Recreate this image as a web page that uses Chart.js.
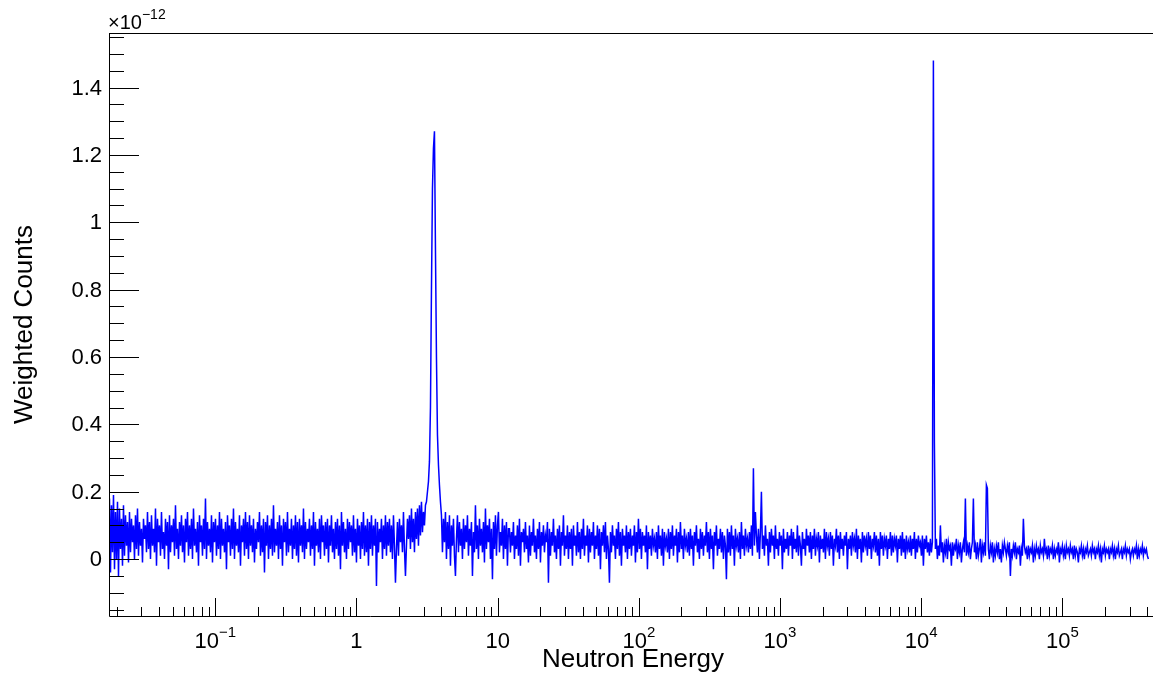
<!DOCTYPE html>
<html>
<head>
<meta charset="utf-8">
<script src="https://cdn.jsdelivr.net/npm/chart.js@4.4.1/dist/chart.umd.min.js"></script>
<style>
  html, body { margin: 0; padding: 0; background: #fff; }
  #wrap { width: 1153px; height: 675px; }
</style>
</head>
<body>
<div id="wrap"><canvas id="chart" width="1153" height="675"></canvas></div>
<script>
// Neutron energy spectrum, drawn ROOT-style (log x, ticks inside the frame)

// histogram binning: log10(E) of the first bin edge, and bin width in decades
const logEmin = -1.7528;
const binWidthLog = 0.0070822;

// axis ranges (y in units of 1e-12)
const xMin = 0.01767;
const xMax = 4.385e5;
const yMin = -0.169;
const yMax = 1.562;

const yTickValues = [0, 0.2, 0.4, 0.6, 0.8, 1, 1.2, 1.4];
const yTickLabels = ["0", "0.2", "0.4", "0.6", "0.8", "1", "1.2", "1.4"];
const xTickValues = [0.1, 1, 10, 100, 1e3, 1e4, 1e5];
const xTickBase = ["10", "1", "10", "10", "10", "10", "10"];
const xTickExp = ["\u22121", "", "", "2", "3", "4", "5"];

// bin contents in units of 1e-14, below the resonance
const countsLowE = [
  18,-4,16,2,19,-3,14,0,17,-5,15,3,12,-2,16,1,13,4,11,-1,
  14,2,12,5,10,0,13,3,15,1,11,4,9,-1,12,6,10,2,14,3,
  11,0,13,4,9,2,15,-2,12,5,10,1,14,3,8,0,12,4,11,-3,
  13,2,10,5,12,1,16,3,9,0,11,4,13,2,10,-1,12,5,14,1,
  10,3,12,0,15,4,9,2,11,-2,13,5,10,1,12,3,18,0,11,4,
  9,2,13,-1,11,5,12,1,10,3,14,0,12,4,9,2,11,-3,13,5,
  10,1,12,3,15,0,11,4,9,2,13,-2,10,5,12,1,14,3,11,0,
  13,4,10,2,12,-1,9,3,11,5,14,1,10,2,12,-4,11,4,13,0,
  10,3,12,1,16,2,9,4,11,0,13,3,10,-2,12,5,11,1,14,2,
  9,4,12,0,10,3,13,1,11,-1,12,4,10,2,15,0,11,3,9,5,
  12,1,10,3,14,-2,11,4,9,2,12,0,13,5,10,1,11,3,12,-1,
  10,4,13,2,9,0,11,3,12,1,10,-3,14,4,11,2,9,0,12,3,
  11,5,10,1,13,2,9,-1,12,4,10,0,11,3,14,1,10,2,12,-2,
  11,3,13,1,10,4,12,-8,11,2,9,5,12,0,10,3,13,1,11,4,
  12,2,10,0,13,4,-7,3,11,1,12,5,10,2,14,3,-5,4,12,6,
  13,3,15,5,12,2,14,6,15,4,16,7,17,8
];

// the big resonance near 3.5
const countsResonance = [14, 10, 16, 17, 20, 23, 29, 45, 80, 110, 122, 127, 92, 60, 37, 28, 22, 17, 13];

// above the resonance up to ~1e4 (lines near 700 and 800)
const countsMidE = [
  2,12,5,14,0,11,3,13,-2,10,4,12,1,-5,6,13,2,11,4,9,
  0,12,3,10,5,13,1,9,4,11,-5,8,2,16,3,10,0,12,4,9,
  2,11,-1,15,3,10,5,12,0,9,-6,11,3,13,1,10,14,2,8,4,
  12,0,10,3,11,-2,9,
  9,2,8,4,11,0,7,3,10,1,12,-2,8,5,9,2,11,3,7,-1,
  10,1,8,4,12,2,7,0,9,3,11,-1,8,4,10,2,7,5,11,-7,
  9,1,8,4,12,2,7,0,9,3,10,-2,8,4,13,1,7,3,10,0,
  8,3,9,-2,10,4,7,1,11,2,8,0,9,3,12,1,7,4,10,-1,
  9,2,8,4,11,0,7,3,10,1,9,-3,8,4,10,2,11,0,7,3,
  -7,8,2,10,4,7,0,9,3,11,1,8,-2,9,4,7,2,10,0,8,
  3,9,1,7,4,10,-1,8,2,12,3,9,0,8,4,7,2,10,-3,8,
  3,7,1,9,4,6,2,8,0,10,3,7,1,9,-2,8,4,6,2,9,
  0,8,3,10,1,7,4,9,-1,8,2,11,3,7,0,9,4,6,2,8,
  1,9,3,7,-2,8,4,10,2,6,0,9,3,8,1,7,4,11,2,8,
  0,9,3,7,-3,8,4,10,1,6,3,9,2,8,0,7,4,-6,9,2,
  8,1,10,3,7,-2,9,4,6,2,8,0,11,3,7,1,9,4,6,2,
  8,3,10,1,27,4,14,7,2,9,0,8,20,3,7,1,10,4,6,-2,
  8,2,9,4,7,0,10,3,6,1,8,4,7,-3,9,2,6,3,8,1,
  7,4,9,0,8,3,6,2,10,1,7,4,-2,8,3,6,1,9,4,7,
  2,8,0,7,3,9,1,6,4,8,-1,7,3,6,2,9,0,8,4,6,
  1,8,3,7,-2,6,4,9,2,7,0,8,3,6,1,7,4,8,-3,6,
  3,7,1,8,4,6,2,9,0,7,3,6,-1,8,2,7,4,6,1,8,
  3,7,0,6,4,8,2,7,1,6,-2,8,3,7,1,6,4,7,0,6,
  3,8,1,7,2,6,4,7,-1,6,3,7,1,8,2,6,0,7,3,5,
  2,7,1,6,3,8,0,6,2,7,4,5,1,7,-2,6,3,7,2,5,
  1,6
];

// high energy tail with the narrow lines
const countsHighE = [
  2,5,148,35,3,6,0,4,1,10,2,5,-1,4,2,6,0,5,3,4,
  -2,5,1,4,3,6,0,4,2,5,-1,3,5,2,18,1,4,2,5,0,
  3,5,18,2,4,0,5,1,3,6,-1,4,2,5,1,22,21,3,0,4,
  2,5,-1,3,1,4,2,5,0,3,-1,4,2,5,3,1,4,2,5,-5,
  3,1,4,2,5,0,3,2,4,-2,3,1,12,4,2,3,0,4,1,3,
  2,4,-1,3,1,4,2,3,0,4,2,3,1,6,2,3,0,4,1,3,
  2,4,0,3,1,3,2,5,-1,3,2,4,1,3,0,4,2,3,1,4,
  2,3,0,4,1,3,2,-1,3,2,4,1,3,0,3,2,4,1,2,3,
  1,4,2,3,0,3,2,4,1,3,-1,3,2,4,1,3,2,3,0,3,
  2,4,1,3,0,3,2,4,1,2,3,0,3,2,4,1,3,2,3,0,
  2,3,1,3,2,4,0,3,1,3,2,4,1,3,2,3,1,0
];

const counts = countsLowE.concat(countsResonance, countsMidE, countsHighE);
const points = counts.map((v, i) => ({
  x: Math.pow(10, logEmin + (i + 0.5) * binWidthLog),
  y: v / 100
}));

const FONT = '"Liberation Sans", Arial, Helvetica, sans-serif';

// ROOT-like frame, inward ticks and superscript labels
const rootAxes = {
  id: "rootAxes",
  afterDraw(chart) {
    const { ctx, chartArea: a, scales: { x, y } } = chart;
    ctx.save();
    ctx.strokeStyle = "#000";
    ctx.lineWidth = 1;

    // frame: left, bottom, top
    ctx.beginPath();
    ctx.moveTo(a.left + 0.5, a.top + 0.5);
    ctx.lineTo(a.left + 0.5, a.bottom + 0.5);
    ctx.lineTo(a.right, a.bottom + 0.5);
    ctx.moveTo(a.left, a.top + 0.5);
    ctx.lineTo(a.right, a.top + 0.5);
    ctx.stroke();

    // y ticks every 0.05, major every 0.2
    ctx.beginPath();
    for (let k = -3; k <= 31; k++) {
      const py = Math.round(y.getPixelForValue(k * 0.05)) + 0.5;
      const len = (k % 4 === 0) ? 30 : 15;
      ctx.moveTo(a.left, py);
      ctx.lineTo(a.left + len, py);
    }
    // x ticks: decades and 2..9 in between
    for (let d = -2; d <= 5; d++) {
      for (let m = 1; m <= 9; m++) {
        const v = m * Math.pow(10, d);
        if (v < xMin || v > xMax) continue;
        const px = Math.round(x.getPixelForValue(v)) + 0.5;
        const len = (m === 1) ? 18 : 9;
        ctx.moveTo(px, a.bottom);
        ctx.lineTo(px, a.bottom - len);
      }
    }
    ctx.stroke();

    ctx.fillStyle = "#000";
    // y labels
    ctx.font = "22px " + FONT;
    ctx.textAlign = "right";
    ctx.textBaseline = "middle";
    yTickValues.forEach((v, i) => {
      ctx.fillText(yTickLabels[i], a.left - 7, y.getPixelForValue(v) + 1);
    });

    // x labels with exponents
    ctx.textBaseline = "alphabetic";
    ctx.textAlign = "left";
    xTickValues.forEach((v, i) => {
      ctx.font = "22px " + FONT;
      const wb = ctx.measureText(xTickBase[i]).width;
      ctx.font = "15px " + FONT;
      const we = xTickExp[i] ? ctx.measureText(xTickExp[i]).width : 0;
      const cx = x.getPixelForValue(v);
      const x0 = cx - (wb + we) / 2;
      ctx.font = "22px " + FONT;
      ctx.fillText(xTickBase[i], x0, a.bottom + 32);
      if (xTickExp[i]) {
        ctx.font = "15px " + FONT;
        ctx.fillText(xTickExp[i], x0 + wb, a.bottom + 21);
      }
    });

    // y exponent marker
    ctx.font = "20px " + FONT;
    ctx.fillText("\u00d710", a.left - 1, a.top - 4);
    const w10 = ctx.measureText("\u00d710").width;
    ctx.font = "14px " + FONT;
    ctx.fillText("\u221212", a.left - 1 + w10, a.top - 14);

    // axis titles
    ctx.font = "26px " + FONT;
    ctx.textAlign = "center";
    ctx.fillText("Neutron Energy", (a.left + a.right) / 2 + 2, a.bottom + 51);
    ctx.save();
    ctx.translate(32, (a.top + a.bottom) / 2);
    ctx.rotate(-Math.PI / 2);
    ctx.fillText("Weighted Counts", 0, 0);
    ctx.restore();

    ctx.restore();
  }
};

new Chart(document.getElementById("chart"), {
  type: "line",
  data: {
    datasets: [{
      label: "Weighted Counts",
      data: points,
      borderColor: "#0000ff",
      borderWidth: 1.5,
      pointRadius: 0,
      fill: false,
      tension: 0
    }]
  },
  options: {
    responsive: false,
    animation: false,
    layout: { padding: { top: 33, right: 0, left: 0, bottom: 0 } },
    plugins: { legend: { display: false }, tooltip: { enabled: false } },
    scales: {
      x: {
        type: "logarithmic",
        min: xMin,
        max: xMax,
        grid: { display: false },
        border: { display: false },
        ticks: { display: false },
        afterFit(s) { s.height = 59; }
      },
      y: {
        min: yMin,
        max: yMax,
        grid: { display: false },
        border: { display: false },
        ticks: { display: false },
        afterFit(s) { s.width = 109; }
      }
    }
  },
  plugins: [rootAxes]
});
</script>
</body>
</html>
